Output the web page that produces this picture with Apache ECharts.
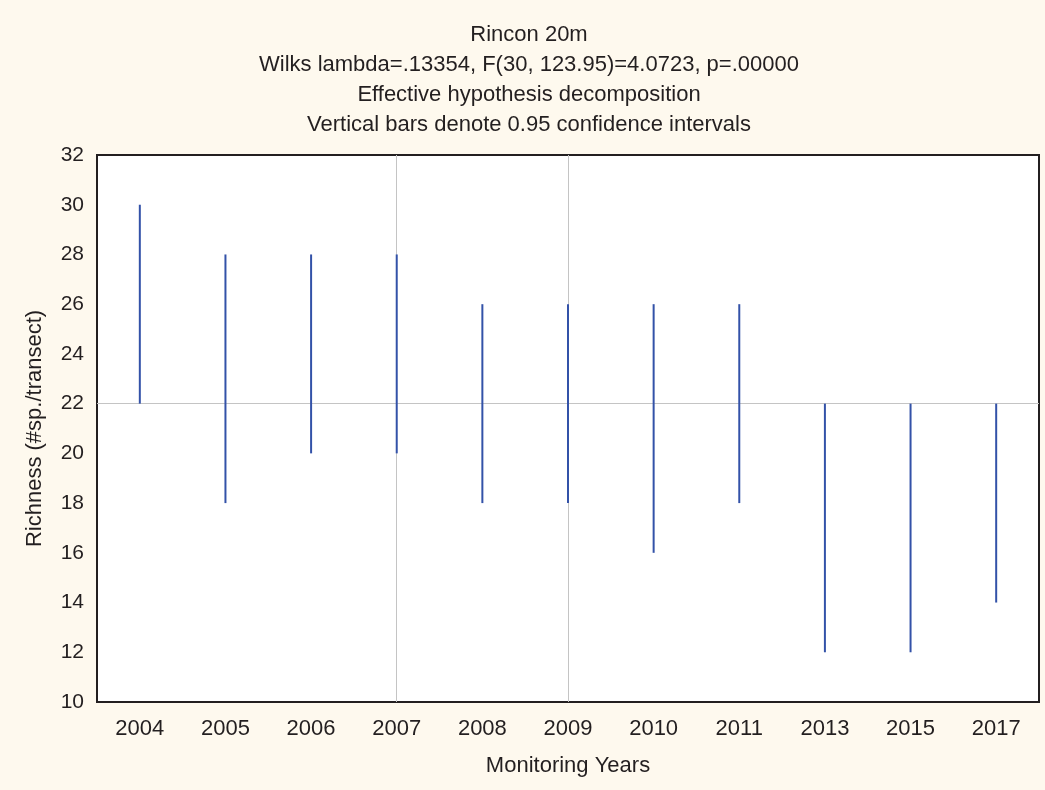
<!DOCTYPE html>
<html>
<head>
<meta charset="utf-8">
<script src="https://cdn.jsdelivr.net/npm/echarts@6/dist/echarts.min.js"></script>
<style>
  html, body { margin: 0; padding: 0; background: #fef9ee; }
  #main { width: 1045px; height: 790px; }
</style>
</head>
<body>
<div id="main"></div>
<script>
const years = ['2004', '2005', '2006', '2007', '2008', '2009', '2010', '2011', '2013', '2015', '2017'];
const lower = [22, 18, 20, 20, 18, 18, 16, 18, 12, 12, 14];
const upper = [30, 28, 28, 28, 26, 26, 26, 26, 22, 22, 22];
const gridYears = ['2007', '2009'];
const gridValues = [22];

const titleLines = [
    'Rincon 20m',
    'Wilks lambda=.13354, F(30, 123.95)=4.0723, p=.00000',
    'Effective hypothesis decomposition',
    'Vertical bars denote 0.95 confidence intervals'
];

const font = 'Arial, "Liberation Sans", sans-serif';
const textColor = '#231f20';

const intervals = years.map((y, i) => [i, lower[i], upper[i]]);

function renderBar(params, api) {
    const p1 = api.coord([api.value(0), api.value(1)]);
    const p2 = api.coord([api.value(0), api.value(2)]);
    return {
        type: 'line',
        shape: { x1: p1[0], y1: p1[1], x2: p2[0], y2: p2[1] },
        style: { stroke: '#3352a8', lineWidth: 2 }
    };
}

const gridMarks = gridYears.map(y => ({ xAxis: y })).concat(gridValues.map(v => ({ yAxis: v })));

const chart = echarts.init(document.getElementById('main'));
chart.setOption({
    backgroundColor: '#fef9ee',
    animation: false,
    title: {
        text: titleLines.join('\n'),
        left: 529,
        top: 20,
        textAlign: 'center',
        padding: 0,
        textStyle: {
            fontFamily: font,
            fontSize: 22,
            fontWeight: 'normal',
            color: textColor,
            lineHeight: 30
        }
    },
    grid: {
        left: 97,
        right: 6,
        top: 155,
        bottom: 88,
        show: true,
        backgroundColor: '#ffffff',
        borderColor: '#231f20',
        borderWidth: 2
    },
    xAxis: {
        type: 'category',
        data: years,
        name: 'Monitoring Years',
        nameLocation: 'middle',
        nameGap: 53,
        nameTextStyle: { fontFamily: font, fontSize: 22, color: textColor },
        axisLine: { show: false },
        axisTick: { show: false },
        axisLabel: { fontFamily: font, fontSize: 22, color: textColor, margin: 16 },
        splitLine: { show: false }
    },
    yAxis: {
        type: 'value',
        min: 10,
        max: 32,
        interval: 2,
        name: 'Richness (#sp./transect)',
        nameLocation: 'middle',
        nameGap: 51,
        nameTextStyle: { fontFamily: font, fontSize: 22, color: textColor },
        axisLine: { show: false },
        axisTick: { show: false },
        axisLabel: { fontFamily: font, fontSize: 21, color: textColor, margin: 13 },
        splitLine: { show: false }
    },
    series: [
        {
            type: 'line',
            data: [],
            zlevel: 0,
            silent: true,
            markLine: {
                silent: true,
                symbol: 'none',
                label: { show: false },
                lineStyle: { color: '#c4c4c4', width: 1, type: 'solid' },
                data: gridMarks
            }
        },
        {
            type: 'custom',
            zlevel: 1,
            renderItem: renderBar,
            encode: { x: 0, y: [1, 2] },
            data: intervals
        }
    ]
});
</script>
</body>
</html>
